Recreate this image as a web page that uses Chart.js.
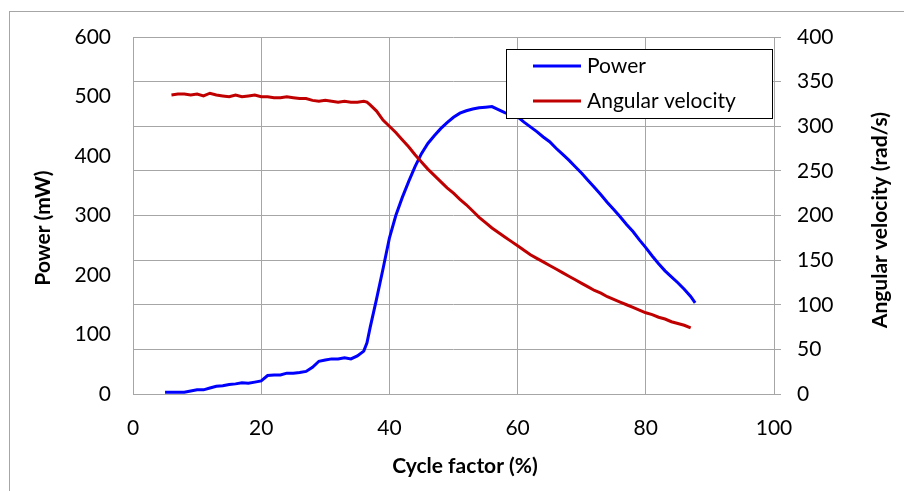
<!DOCTYPE html>
<html>
<head>
<meta charset="utf-8">
<script src="https://cdn.jsdelivr.net/npm/chart.js@4"></script>
<style>
  body { margin: 0; background: #fff; }
  #wrap { width: 904px; height: 491px; }
</style>
</head>
<body>
<div id="wrap"><canvas id="cycleChart"></canvas></div>
<script>
// values
const cycleFactor = [5, 6, 7, 8, 9, 10, 11, 12, 13, 14, 15, 16, 17, 18, 19, 20,
  21, 22, 23, 24, 25, 26, 27, 28, 29, 30, 31, 32, 33, 34, 35, 36, 36.5, 37, 38, 39, 40,
  41, 42, 43, 44, 45, 46, 47, 48, 49, 50, 51, 52, 53, 54, 55, 56, 57, 58, 59, 60,
  61, 62, 63, 64, 65, 66, 67, 68, 69, 70, 71, 72, 73, 74, 75, 76, 77, 78, 79, 80,
  81, 82, 83, 84, 85, 86, 87, 87.7];

const power = [3, 3, 3, 3, 5, 7, 7, 10, 13, 14, 16, 17, 19, 18, 20, 22,
  31, 32, 32, 35, 35, 36, 38, 45, 55, 57, 59, 59, 61, 59, 64, 72, 86, 112, 160, 210, 262,
  300, 330, 357, 382, 404, 421, 434, 446, 456, 465, 472, 476, 479, 481, 482, 483, 478, 473, 469, 466,
  457, 449, 441, 432, 424, 413, 403, 393, 382, 371, 359, 347, 335, 322, 310, 298, 285, 273, 259, 246,
  232, 219, 207, 197, 187, 176, 164, 153];

const angularVelocity = [null, 335, 336, 336, 335, 336, 334, 337, 335, 334, 333, 335, 333, 334, 335, 333,
  333, 332, 332, 333, 332, 331, 331, 329, 328, 329, 328, 327, 328, 327, 327, 328, 327, 324, 317, 307, 300,
  293, 285, 277, 268, 260, 252, 245, 238, 231, 225, 218, 212, 205, 198, 192, 186, 181, 176, 171, 166,
  161, 156, 152, 148, 144, 140, 136, 132, 128, 124, 120, 116, 113, 109, 106, 103, 100, 97, 94, 91,
  89, 86, 84, 81, 79, 77, 74, null];

const xTicks = [0, 20, 40, 60, 80, 100];
const powerTicks = [0, 100, 200, 300, 400, 500, 600];
const velocityTicks = [0, 50, 100, 150, 200, 250, 300, 350, 400];

const xTitle = 'Cycle factor (%)';
const powerTitle = 'Power (mW)';
const velocityTitle = 'Angular velocity (rad/s)';

const gridColor = '#a6a6a6';
const fontFamily = 'Lato, "Open Sans", sans-serif';

function toPoints(ys) {
  return cycleFactor.map((x, i) => ({ x: x, y: ys[i] }));
}

// frame, axis titles and the legend box that sits inside the plot
const decorations = {
  id: 'decorations',
  beforeDraw(chart) {
    const ctx = chart.ctx;
    ctx.save();
    ctx.strokeStyle = gridColor;
    ctx.lineWidth = 1;
    ctx.strokeRect(9.5, 11.5, chart.width, chart.height);
    ctx.restore();
  },
  afterDraw(chart) {
    const { ctx, chartArea } = chart;
    ctx.save();
    ctx.fillStyle = '#000';
    ctx.font = 'bold 21px ' + fontFamily;
    ctx.textAlign = 'center';
    ctx.textBaseline = 'middle';
    ctx.fillText(xTitle, 465, 466);

    ctx.save();
    ctx.translate(43, 228);
    ctx.rotate(-Math.PI / 2);
    ctx.fillText(powerTitle, 0, 0);
    ctx.restore();

    ctx.save();
    ctx.translate(880, 220);
    ctx.rotate(-Math.PI / 2);
    ctx.fillText(velocityTitle, 0, 0);
    ctx.restore();

    // legend
    const w = 266, h = 69;
    const left = chartArea.right - 268;
    const top = chartArea.top + 12;
    ctx.fillStyle = '#fff';
    ctx.fillRect(left, top, w, h);
    ctx.strokeStyle = '#000';
    ctx.lineWidth = 1;
    ctx.strokeRect(left + 0.5, top + 0.5, w, h);

    const rows = [chart.data.datasets[0], chart.data.datasets[1]];
    ctx.font = '21px ' + fontFamily;
    ctx.textAlign = 'left';
    rows.forEach((ds, i) => {
      const y = top + 17 + i * 35;
      ctx.strokeStyle = ds.borderColor;
      ctx.lineWidth = 3;
      ctx.beginPath();
      ctx.moveTo(left + 27, y);
      ctx.lineTo(left + 75, y);
      ctx.stroke();
      ctx.fillStyle = '#000';
      ctx.fillText(ds.label, left + 81, y);
    });
    ctx.restore();
  }
};

const ctx = document.getElementById('cycleChart').getContext('2d');

const chart = new Chart(ctx, {
  type: 'line',
  data: {
    datasets: [
      {
        label: 'Power',
        data: toPoints(power),
        yAxisID: 'y',
        borderColor: '#0000ff',
        borderWidth: 3,
        pointRadius: 0,
        fill: false,
        order: 1,
      },
      {
        label: 'Angular velocity',
        data: toPoints(angularVelocity),
        yAxisID: 'y1',
        borderColor: '#c00000',
        borderWidth: 3,
        pointRadius: 0,
        fill: false,
        order: 0,
      },
    ],
  },
  options: {
    responsive: true,
    maintainAspectRatio: false,
    animation: false,
    layout: { padding: { top: 37, left: 0, right: 0, bottom: 0 } },
    plugins: {
      legend: { display: false },
      tooltip: { enabled: false },
    },
    scales: {
      x: {
        type: 'linear',
        min: 0,
        max: 100,
        afterBuildTicks: (s) => { s.ticks = xTicks.map(v => ({ value: v })); },
        afterFit: (s) => { s.height = 97; },
        grid: { color: gridColor, drawTicks: false },
        border: { color: gridColor },
        ticks: { color: '#000', padding: 22, font: { family: fontFamily, size: 21 } },
      },
      y: {
        position: 'left',
        min: 0,
        max: 600,
        afterBuildTicks: (s) => { s.ticks = powerTicks.map(v => ({ value: v })); },
        afterFit: (s) => { s.width = 133; },
        grid: { display: false, drawTicks: false },
        border: { display: true, color: gridColor },
        ticks: { color: '#000', padding: 22, font: { family: fontFamily, size: 21 } },
      },
      y1: {
        position: 'right',
        min: 0,
        max: 400,
        afterBuildTicks: (s) => { s.ticks = velocityTicks.map(v => ({ value: v })); },
        afterFit: (s) => { s.width = 130; },
        grid: { color: gridColor, tickLength: 7 },
        border: { color: gridColor },
        ticks: { color: '#000', padding: 16, font: { family: fontFamily, size: 21 } },
      },
    },
  },
  plugins: [decorations],
});
</script>
</body>
</html>
